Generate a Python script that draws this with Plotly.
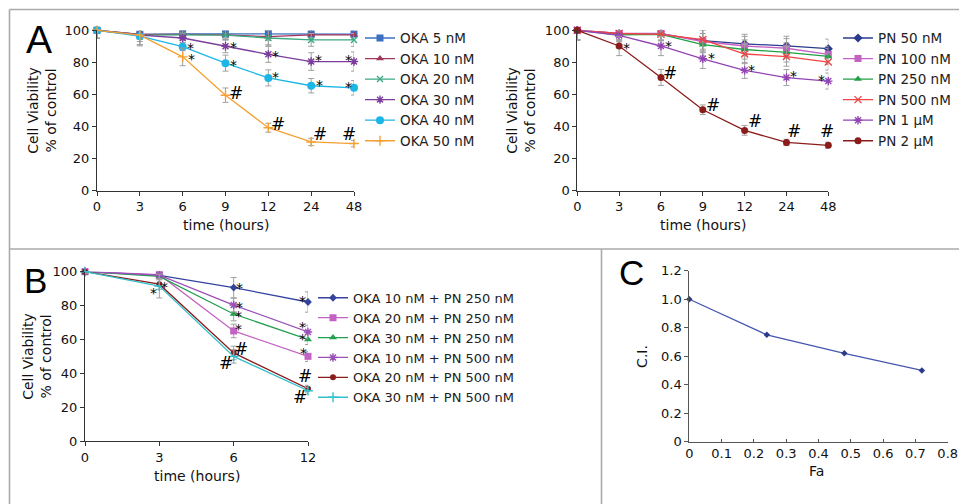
import plotly.graph_objects as go

FONT = "DejaVu Sans"
W, H = 967, 504
OFF = 8  # page body margin offset of the figure inside the browser window

# ---------------- data ----------------
time_a = ["0", "3", "6", "9", "12", "24", "48"]

oka_names = ["OKA 5 nM", "OKA 10 nM", "OKA 20 nM", "OKA 30 nM", "OKA 40 nM", "OKA 50 nM"]
oka_5 = [100, 97.5, 97.8, 97.7, 97.8, 97.6, 97.6]
oka_10 = [100, 97.5, 97.5, 97.2, 96.0, 97.2, 97.2]
oka_20 = [100, 97.0, 97.2, 97.0, 95.2, 94.0, 94.0]
oka_30 = [100, 97.0, 95.2, 90.0, 85.0, 80.5, 80.5]
oka_40 = [100, 96.3, 89.8, 79.5, 70.3, 65.4, 64.1]
oka_50 = [100, 97.0, 83.4, 59.5, 39.2, 30.3, 29.3]
oka_5_err = [5, 3, 4, 3, 4, 3, 3]
oka_10_err = [5, 3, 3, 3, 5, 3, 3]
oka_20_err = [5, 4, 3, 3, 5, 4, 4]
oka_30_err = [5, 6, 3, 4, 5, 5.5, 6]
oka_40_err = [5, 6, 2.5, 5, 5, 4.5, 4.5]
oka_50_err = [5, 6, 5.5, 4.5, 2.8, 2.3, 2]

pn_names = ["PN 50 nM", "PN 100 nM", "PN 250 nM", "PN 500 nM", "PN 1 μM", "PN 2 μM"]
pn_50 = [100, 98.0, 97.8, 93.5, 91.5, 90.3, 88.5]
pn_100 = [100, 98.0, 98.0, 93.0, 90.2, 88.8, 85.0]
pn_250 = [100, 97.2, 97.5, 91.0, 88.0, 86.2, 83.7]
pn_500 = [100, 98.0, 97.5, 94.2, 85.2, 83.6, 80.2]
pn_1u = [100, 96.8, 90.2, 82.2, 75.0, 70.5, 68.3]
pn_2u = [100, 90.2, 70.6, 50.4, 37.5, 30.0, 28.2]
pn_50_err = [6, 4, 4, 7, 6, 6, 6]
pn_100_err = [6, 4, 4, 7, 6, 6, 5]
pn_250_err = [6, 4, 4, 7, 6, 6, 5]
pn_500_err = [6, 4, 4, 7, 6, 6, 5]
pn_1u_err = [6, 4, 6, 6, 5, 5, 5]
pn_2u_err = [6, 6, 5, 3, 3, 2, 2]

time_b = ["0", "3", "6", "12"]
combo_names = ["OKA 10 nM + PN 250 nM", "OKA 20 nM + PN 250 nM", "OKA 30 nM + PN 250 nM",
               "OKA 10 nM + PN 500 nM", "OKA 20 nM + PN 500 nM", "OKA 30 nM + PN 500 nM"]
combo_1 = [100, 97.8, 90.6, 82.1]
combo_2 = [100, 98.2, 65.0, 50.0]
combo_3 = [100, 97.2, 75.0, 60.0]
combo_4 = [100, 98.0, 80.3, 64.4]
combo_5 = [100, 92.6, 52.0, 30.9]
combo_6 = [100, 91.5, 50.0, 29.7]
combo_1_err = [1, 2, 6, 6]
combo_2_err = [1, 2, 4, 3]
combo_3_err = [1, 2, 4, 3]
combo_4_err = [1, 2, 4, 4]
combo_5_err = [1, 3, 4, 2]
combo_6_err = [1, 7, 4, 2]

fa = [0, 0.24, 0.48, 0.72]
ci = [1.0, 0.75, 0.62, 0.50]
c_xticks = [0, 0.1, 0.2, 0.3, 0.4, 0.5, 0.6, 0.7, 0.8]
c_xlabels = ["0", "0.1", "0.2", "0.3", "0.4", "0.5", "0.6", "0.7", "0.8"]
c_yticks = [0, 0.2, 0.4, 0.6, 0.8, 1.0, 1.2]
c_ylabels = ["0", "0.2", "0.4", "0.6", "0.8", "1.0", "1.2"]
a_yticks = [0, 20, 40, 60, 80, 100]

# significance marks: (series index, time index, mark, dx px, dy px)
marks_a1 = [(4, 2, "*", 8, 2), (5, 2, "*", 9, 1), (3, 3, "*", 8, 3), (4, 3, "*", 8, 2),
            (5, 3, "#", 10, 2), (3, 4, "*", 7, 2), (4, 4, "*", 7, 4), (5, 4, "#", 10, 4),
            (3, 5, "*", 7, 5), (4, 5, "*", 8, 4), (5, 5, "#", 9, 8), (3, 6, "*", -6, 5),
            (4, 6, "*", -6, 4), (5, 6, "#", -5, 10)]
marks_a2 = [(5, 1, "*", 7, 1), (4, 2, "*", 8, 3), (5, 2, "#", 9, 4), (4, 3, "*", 9, 4),
            (5, 3, "#", 10, 5), (4, 4, "*", 7, 4), (5, 4, "#", 10, 9), (4, 5, "*", 7, 5),
            (5, 5, "#", 8, 11), (4, 6, "*", -7, 5), (5, 6, "#", -1, 14)]
marks_b = [(4, 1, "*", -6, -5), (4, 1, "*", 5, 1), (0, 2, "*", 6, 3), (3, 2, "*", 6, 2),
           (2, 2, "*", 5, 2), (1, 2, "*", 5, 5), (4, 2, "#", 7, 4), (5, 2, "#", -8, -7),
           (0, 3, "*", -6, 5), (3, 3, "*", -6, 8), (2, 3, "*", -6, 4), (1, 3, "*", -5, 7),
           (4, 3, "#", -3, 13), (5, 3, "#", -8, -6)]

# ---------------- styles ----------------
oka_styles = [("#3b6fc2", "square", 7), ("#a0375c", "triangle-up", 7), ("#3aaa82", "x-thin-open", 6),
              ("#7b3c9c", "asterisk-open", 7), ("#1cb6e6", "circle", 8), ("#f5a033", "cross-thin-open", 7)]
pn_styles = [("#2b3a8c", "diamond", 7), ("#c462c4", "square", 7), ("#22a046", "triangle-up", 7),
             ("#f04444", "x-thin-open", 7), ("#9244b4", "asterisk-open", 7), ("#8a1c1c", "circle", 7)]
combo_styles = [("#34449e", "diamond", 6), ("#c462c4", "square", 7), ("#22a050", "triangle-up", 7),
                ("#9a50b8", "asterisk-open", 7), ("#8a1c1c", "circle", 6), ("#32c0cc", "cross-thin-open", 7)]


def px(x):
    return (x - OFF) / W


def py(y):
    return 1 - (y - OFF) / H


fig = go.Figure()


def add_series(name, xs, ys, err, style, xa, ya, legend):
    color, symbol, size = style
    is_open = symbol.endswith("-open")
    fig.add_trace(go.Scatter(
        x=xs, y=ys, name=name, mode="lines+markers", xaxis=xa, yaxis=ya, legend=legend,
        line=dict(color=color, width=1.3),
        marker=dict(symbol=symbol, size=size, color=color,
                    line=dict(color=color, width=1.4 if is_open else 0)),
        error_y=dict(type="data", array=err, visible=True, color="#a0a0a0", thickness=1, width=3),
        cliponaxis=False,
    ))


oka_vals = [oka_5, oka_10, oka_20, oka_30, oka_40, oka_50]
oka_errs = [oka_5_err, oka_10_err, oka_20_err, oka_30_err, oka_40_err, oka_50_err]
for n, v, e, s in zip(oka_names, oka_vals, oka_errs, oka_styles):
    add_series(n, time_a, v, e, s, "x", "y", "legend")

pn_vals = [pn_50, pn_100, pn_250, pn_500, pn_1u, pn_2u]
pn_errs = [pn_50_err, pn_100_err, pn_250_err, pn_500_err, pn_1u_err, pn_2u_err]
for n, v, e, s in zip(pn_names, pn_vals, pn_errs, pn_styles):
    add_series(n, time_a, v, e, s, "x2", "y2", "legend2")

combo_vals = [combo_1, combo_2, combo_3, combo_4, combo_5, combo_6]
combo_errs = [combo_1_err, combo_2_err, combo_3_err, combo_4_err, combo_5_err, combo_6_err]
for n, v, e, s in zip(combo_names, combo_vals, combo_errs, combo_styles):
    add_series(n, time_b, v, e, s, "x3", "y3", "legend3")

fig.add_trace(go.Scatter(
    x=fa, y=ci, mode="lines+markers", xaxis="x4", yaxis="y4", showlegend=False, name="C.I.",
    line=dict(color="#4656ae", width=1.2),
    marker=dict(symbol="diamond", size=5, color="#2b3a8c"),
    cliponaxis=False,
))

# ---------------- axes ----------------
axis_common = dict(showline=True, linecolor="#333333", linewidth=1, ticks="outside", ticklen=4,
                   tickcolor="#333333", tickwidth=1, showgrid=False, zeroline=False, fixedrange=True,
                   automargin=False, tickfont=dict(family=FONT, size=13, color="#111111"))
c_axis = dict(axis_common, linecolor="#555555", tickcolor="#555555")

dom_a_y = [py(190.5), py(30.3)]
fig.update_layout(
    xaxis=dict(domain=[px(97), px(354)], anchor="y", type="category", categoryorder="array",
               categoryarray=time_a, range=[0, 6], **axis_common),
    yaxis=dict(domain=dom_a_y, anchor="x", range=[0, 100], tickvals=a_yticks, **axis_common),
    xaxis2=dict(domain=[px(577.3), px(828.3)], anchor="y2", type="category", categoryorder="array",
                categoryarray=time_a, range=[0, 6], **axis_common),
    yaxis2=dict(domain=dom_a_y, anchor="x2", range=[0, 100], tickvals=a_yticks, **axis_common),
    xaxis3=dict(domain=[px(85), px(308)], anchor="y3", type="category", categoryorder="array",
                categoryarray=time_b, range=[0, 3], **axis_common),
    yaxis3=dict(domain=[py(441), py(271.7)], anchor="x3", range=[0, 100], tickvals=a_yticks,
                **axis_common),
    xaxis4=dict(domain=[px(689.3), px(947.7)], anchor="y4", range=[0, 0.8], tickvals=c_xticks,
                ticktext=c_xlabels, **dict(c_axis, ticks="inside", ticklen=3)),
    yaxis4=dict(domain=[py(441.7), py(270.7)], anchor="x4", range=[0, 1.2], tickvals=c_yticks,
                ticktext=c_ylabels, **c_axis),
)

# ---------------- legends ----------------
leg_common = dict(xanchor="left", yanchor="top", bgcolor="rgba(0,0,0,0)", borderwidth=0,
                  tracegroupgap=0, traceorder="normal")
fig.update_layout(
    legend=dict(x=px(360), y=py(22.7), font=dict(family=FONT, size=13.5, color="#222222"), **leg_common),
    legend2=dict(x=px(838), y=py(22.7), font=dict(family=FONT, size=13.5, color="#222222"), **leg_common),
    legend3=dict(x=px(313), y=py(282.8), font=dict(family=FONT, size=13, color="#222222"), **leg_common),
)

# ---------------- annotations ----------------
annotations = []


def add_marks(marks, values, xref, yref):
    for si, ti, m, dx, dy in marks:
        is_star = m == "*"
        annotations.append(dict(
            x=ti, y=values[si][ti], xref=xref, yref=yref, text=m, showarrow=False,
            xanchor="center", yanchor="middle", xshift=dx, yshift=dy - (3.5 if is_star else 0),
            font=dict(family=FONT, size=14 if is_star else 17, color="#000000"),
        ))


add_marks(marks_a1, oka_vals, "x", "y")
add_marks(marks_a2, pn_vals, "x2", "y2")
add_marks(marks_b, combo_vals, "x3", "y3")

title_font = dict(family=FONT, size=14, color="#111111")
for (cx, cy) in [(42.5, 110.3), (521.5, 110.3), (37.5, 356.3)]:
    annotations.append(dict(x=px(cx), y=py(cy), xref="paper", yref="paper", showarrow=False,
                            text="Cell Viability<br>% of control", textangle=-90,
                            xanchor="center", yanchor="middle", font=title_font))
annotations.append(dict(x=px(641.7), y=py(356.2), xref="paper", yref="paper", showarrow=False,
                        text="C.I.", textangle=-90, xanchor="center", yanchor="middle", font=title_font))
for (cx, cy, t) in [(225.5, 224.5, "time (hours)"), (702.8, 224.5, "time (hours)"),
                    (196.5, 475.5, "time (hours)"), (816, 471, "Fa")]:
    annotations.append(dict(x=px(cx), y=py(cy), xref="paper", yref="paper", showarrow=False,
                            text=t, xanchor="center", yanchor="middle", font=title_font))

for (cx, cy, t, s) in [(39, 39, "A", 39), (35, 280, "B", 35), (631, 272.5, "C", 35)]:
    annotations.append(dict(x=px(cx), y=py(cy), xref="paper", yref="paper", showarrow=False,
                            text=t, xanchor="center", yanchor="middle",
                            font=dict(family="Liberation Sans", size=s, color="#000000")))

# ---------------- panel borders ----------------
border = dict(color="#aaaaaa", width=1.6)
shapes = [
    dict(type="line", xref="paper", yref="paper", x0=px(9.5), x1=px(967), y0=py(9.5), y1=py(9.5), line=border),
    dict(type="line", xref="paper", yref="paper", x0=px(9.5), x1=px(967), y0=py(249), y1=py(249), line=border),
    dict(type="line", xref="paper", yref="paper", x0=px(9.5), x1=px(9.5), y0=py(9.5), y1=py(504), line=border),
    dict(type="line", xref="paper", yref="paper", x0=px(601.5), x1=px(601.5), y0=py(249), y1=py(504), line=border),
]

fig.update_layout(
    width=W, height=H, margin=dict(l=0, r=0, t=0, b=0, autoexpand=False),
    paper_bgcolor="white", plot_bgcolor="white",
    font=dict(family=FONT, size=13, color="#111111"),
    annotations=annotations, shapes=shapes,
)

fig.write_html("out.html")
